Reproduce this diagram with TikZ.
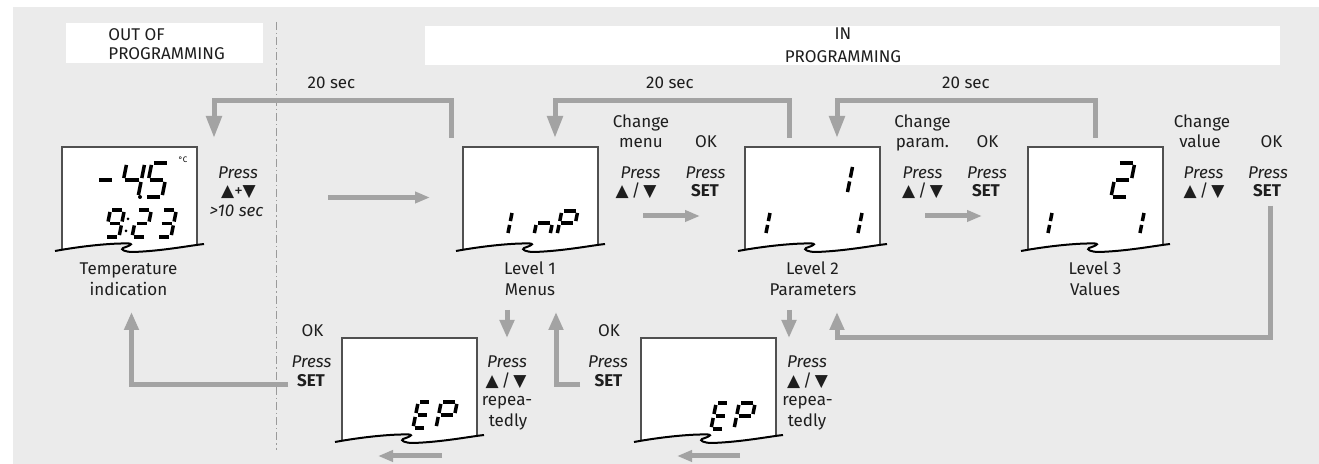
\documentclass[tikz,border=0pt]{standalone}
\usepackage{fontspec}
\setmainfont{Fira Sans}
\newfontfamily\symf{DejaVu Sans}
\usetikzlibrary{arrows.meta}
\definecolor{bgcol}{HTML}{EBEBEB}
\definecolor{arrcol}{HTML}{A3A3A3}
\definecolor{txtcol}{HTML}{1E1E1E}
\definecolor{boxline}{HTML}{505050}
\definecolor{dashcol}{HTML}{9A9A9A}
% seven segment digit: x (bottom-left), y (baseline), height, width, segment list
\newcommand\segdig[5]{%
  \pgfmathsetmacro\sgs{0.2*#3}%
  \coordinate (a1) at ({#1+\sgs},{#2-#3});
  \coordinate (a2) at ({#1+#4+\sgs},{#2-#3});
  \coordinate (b1) at ({#1+#4+\sgs},{#2-#3});
  \coordinate (b2) at ({#1+#4+\sgs/2},{#2-#3/2});
  \coordinate (c1) at ({#1+#4+\sgs/2},{#2-#3/2});
  \coordinate (c2) at ({#1+#4},{#2});
  \coordinate (d1) at ({#1+#4},{#2});
  \coordinate (d2) at ({#1},{#2});
  \coordinate (e1) at ({#1},{#2});
  \coordinate (e2) at ({#1+\sgs/2},{#2-#3/2});
  \coordinate (f1) at ({#1+\sgs/2},{#2-#3/2});
  \coordinate (f2) at ({#1+\sgs},{#2-#3});
  \coordinate (g1) at ({#1+\sgs/2},{#2-#3/2});
  \coordinate (g2) at ({#1+#4+\sgs/2},{#2-#3/2});
  \foreach \q in {#5}{\draw[segline] (\q1) -- (\q2);}%
}
% LCD panel: name, x0, y0 (top-left)
\newcommand\lcdpanel[3]{%
  \node[inner sep=0pt, minimum width=67.5pt, minimum height=50pt, anchor=north west] (#1) at (#2,#3) {};
  \begin{scope}[shift={(#2,#3)}]
    \begin{scope}
      \clip (-7,104) .. controls (20,99) and (50,96) .. (67,96.5)
        .. controls (73,97) and (64,100) .. (61,101)
        .. controls (58,102.5) and (63,105) .. (71,105)
        .. controls (100,104) and (125,99) .. (142,97)
        -- (142,-3) -- (-7,-3) -- cycle;
      \filldraw[fill=white, draw=boxline, line width=0.6pt] (0,0) rectangle (135,112);
    \end{scope}
    \draw[black, line width=1pt] (-7,104) .. controls (20,99) and (50,96) .. (67,96.5)
        .. controls (73,97) and (64,100) .. (61,101)
        .. controls (58,102.5) and (63,105) .. (71,105)
        .. controls (100,104) and (125,99) .. (142,97);
  \end{scope}}
\newcommand\updn{{\symf ▲}\,/\,{\symf ▼}}
\begin{document}
\begin{tikzpicture}[x=0.5pt,y=-0.5pt,
  font=\fontsize{8.5}{10}\selectfont,
  lbl/.style={text=txtcol, inner sep=0pt, anchor=base},
  lblw/.style={text=txtcol, inner sep=0pt, anchor=base west},
  gline/.style={draw=arrcol, line width=2.5pt},
  garrowL/.style={gline, -{Triangle[length=11pt,width=7.5pt]}},
  garrow/.style={gline, -{Triangle[length=9pt,width=7pt]}},
  garrowS/.style={gline, -{Triangle[length=7.5pt,width=5.5pt]}},
  segline/.style={line width=1.75pt, shorten >=1pt, shorten <=1pt, black},
  dotf/.style={fill=black}]
\useasboundingbox (0,0) rectangle (1319,464);
\fill[white] (0,0) rectangle (1319,464);
\fill[bgcol] (13,7) rectangle (1319,464);
% header boxes
\fill[white] (66,23) rectangle (263,63);
\fill[white] (425,26) rectangle (1280,65);
\node[lblw] (outa) at (108,40.7) {OUT OF};
\node[lblw] (outb) at (108,60) {PROGRAMMING};
\node[lbl] (ina) at (843,40) {IN};
\node[lbl] (inb) at (843,62.5) {PROGRAMMING};
% dash-dot separator
\coordinate (sept) at (276,22);
\coordinate (sepb) at (276,450);
\draw[dashcol, line width=0.5pt, dash pattern=on 4pt off 1.5pt on 0.6pt off 1.5pt] (sept) -- (sepb);
% displays
\lcdpanel{d0}{62}{147}
\lcdpanel{d1}{463}{147}
\lcdpanel{d2}{745}{147}
\lcdpanel{d3}{1028}{147}
\lcdpanel{b1}{342}{338}
\lcdpanel{b2}{641}{338}
% digits display 0
\segdig{94}{197}{34}{17}{g}
\segdig{120}{197}{34}{18}{f,g,b,c}
\fill[dotf] (140,197) circle (2);
\segdig{145}{197}{34}{17}{a,f,g,c,d}
\node[inner sep=0pt, font=\fontsize{4}{4}\selectfont] (degc) at (183,160) {°C};
\segdig{105}{237}{27}{14}{a,b,c,d,f,g}
\fill[dotf] (128,219) circle (1.5);
\fill[dotf] (126,231) circle (1.5);
\segdig{132}{237}{27}{14}{a,b,g,e,d}
\segdig{157}{237}{27}{14}{a,b,g,c,d}
% display 1: I nP
\segdig{507.6}{235}{24}{0}{b,c}
\segdig{534}{235}{24}{16}{e,g,c}
\segdig{557}{235}{24}{16}{a,b,e,f,g}
% display 2
\segdig{847.1}{194}{29}{0}{b,c}
\segdig{765.6}{235}{24}{0}{b,c}
\segdig{857.6}{235}{24}{0}{b,c}
% display 3
\segdig{1111}{197}{34}{17}{a,b,g,e,d}
\segdig{1047.6}{235}{24}{0}{b,c}
\segdig{1139.6}{235}{24}{0}{b,c}
% bottom displays EP
\segdig{413}{428}{26}{13}{a,d,e,f,g}
\segdig{436}{428}{26}{16}{a,b,e,f,g}
\segdig{711}{429}{26}{13}{a,d,e,f,g}
\segdig{734}{429}{26}{16}{a,b,e,f,g}
% texts: 20 sec
\node[lbl] (t20a) at (331.5,89) {20 sec};
\node[lbl] (t20b) at (670,89) {20 sec};
\node[lbl] (t20c) at (966,89) {20 sec};
% display 0 side
\node[lbl] (p0a) at (238,178.3) {\itshape Press};
\node[lbl] (p0b) at (238.5,196.7) {{\symf ▲}+{\symf ▼}};
\node[lbl] (p0c) at (236.5,216.7) {\itshape >10 sec};
% display 1 side
\node[lbl] (c1a) at (641,127.5) {Change};
\node[lbl] (c1b) at (641,148) {menu};
\node[lbl] (c1c) at (706,148) {OK};
\node[lbl] (c1d) at (640.5,178.3) {\itshape Press};
\node[lbl] (c1e) at (636,196.7) {\updn};
\node[lbl] (c1f) at (705.5,178.3) {\itshape Press};
\node[lbl] (c1g) at (705,196.7) {\bfseries SET};
% display 2 side
\node[lbl] (c2a) at (922.5,127.5) {Change};
\node[lbl] (c2b) at (922.5,148) {param.};
\node[lbl] (c2c) at (987.5,148) {OK};
\node[lbl] (c2d) at (922.5,178.3) {\itshape Press};
\node[lbl] (c2e) at (922.5,196.7) {\updn};
\node[lbl] (c2f) at (987,178.3) {\itshape Press};
\node[lbl] (c2g) at (986,196.7) {\bfseries SET};
% display 3 side
\node[lbl] (c3a) at (1202,127.5) {Change};
\node[lbl] (c3b) at (1200,148) {value};
\node[lbl] (c3c) at (1271.5,148) {OK};
\node[lbl] (c3d) at (1203.5,178.3) {\itshape Press};
\node[lbl] (c3e) at (1204,196.7) {\updn};
\node[lbl] (c3f) at (1268,178.3) {\itshape Press};
\node[lbl] (c3g) at (1267,196.7) {\bfseries SET};
% captions
\node[lbl] (cap0a) at (128.5,275) {Temperature};
\node[lbl] (cap0b) at (128.5,296) {indication};
\node[lbl] (cap1a) at (530,275) {Level 1};
\node[lbl] (cap1b) at (530,296) {Menus};
\node[lbl] (cap2a) at (812.5,275) {Level 2};
\node[lbl] (cap2b) at (813,296) {Parameters};
\node[lbl] (cap3a) at (1095,275) {Level 3};
\node[lbl] (cap3b) at (1095,296) {Values};
% bottom texts
\node[lbl] (ok1) at (312.5,336.7) {OK};
\node[lbl] (ok1p) at (311.5,367.3) {\itshape Press};
\node[lbl] (ok1s) at (311,386.7) {\bfseries SET};
\node[lbl] (ok2) at (609,336.7) {OK};
\node[lbl] (ok2p) at (608,367.3) {\itshape Press};
\node[lbl] (ok2s) at (608.5,386.7) {\bfseries SET};
\node[lbl] (r1a) at (507,367.3) {\itshape Press};
\node[lbl] (r1b) at (506,386.7) {\updn};
\node[lbl] (r1c) at (507,406) {repea-};
\node[lbl] (r1d) at (508,426.7) {tedly};
\node[lbl] (r2a) at (807,367.3) {\itshape Press};
\node[lbl] (r2b) at (807.5,386.7) {\updn};
\node[lbl] (r2c) at (807.5,406) {repea-};
\node[lbl] (r2d) at (807,426.7) {tedly};
% arrow coordinates
\coordinate (a1s) at (451.5,138); \coordinate (a1c) at (214,101); \coordinate (a1e) at (214,138);
\coordinate (a2s) at (789.5,138); \coordinate (a2c) at (555,101); \coordinate (a2e) at (555,138);
\coordinate (a3s) at (1095,138); \coordinate (a3c) at (837,101); \coordinate (a3e) at (837,138);
\coordinate (ins) at (328,197.5); \coordinate (ine) at (430,197.5);
\coordinate (ms) at (643,216); \coordinate (me) at (700,216);
\coordinate (ps) at (925,216); \coordinate (pe) at (982,216);
\coordinate (rs) at (1270,206); \coordinate (rc) at (837,338); \coordinate (re) at (837,312);
\coordinate (l1s) at (507,310); \coordinate (l1e) at (507,338);
\coordinate (l2s) at (789,310); \coordinate (l2e) at (789,338);
\coordinate (u1s) at (580,384.5); \coordinate (u1e) at (556,312);
\coordinate (u0s) at (288,384.5); \coordinate (u0e) at (131.5,312);
\coordinate (bl1s) at (442,456); \coordinate (bl1e) at (378,456);
\coordinate (bl2s) at (740,456); \coordinate (bl2e) at (677,456);
% arrows
\draw[garrowL] (a1s) |- (a1c) -- (a1e);
\draw[garrowL] (a2s) |- (a2c) -- (a2e);
\draw[garrowL] (a3s) |- (a3c) -- (a3e);
\draw[garrowS] (ins) -- (ine);
\draw[garrowS] (ms) -- (me);
\draw[garrowS] (ps) -- (pe);
\draw[garrow] (rs) |- (rc) -- (re);
\draw[garrow] (l1s) -- (l1e);
\draw[garrow] (l2s) -- (l2e);
\draw[garrow] (u1s) -| (u1e);
\draw[garrow] (u0s) -| (u0e);
\draw[garrowS] (bl1s) -- (bl1e);
\draw[garrowS] (bl2s) -- (bl2e);
\end{tikzpicture}
\end{document}
